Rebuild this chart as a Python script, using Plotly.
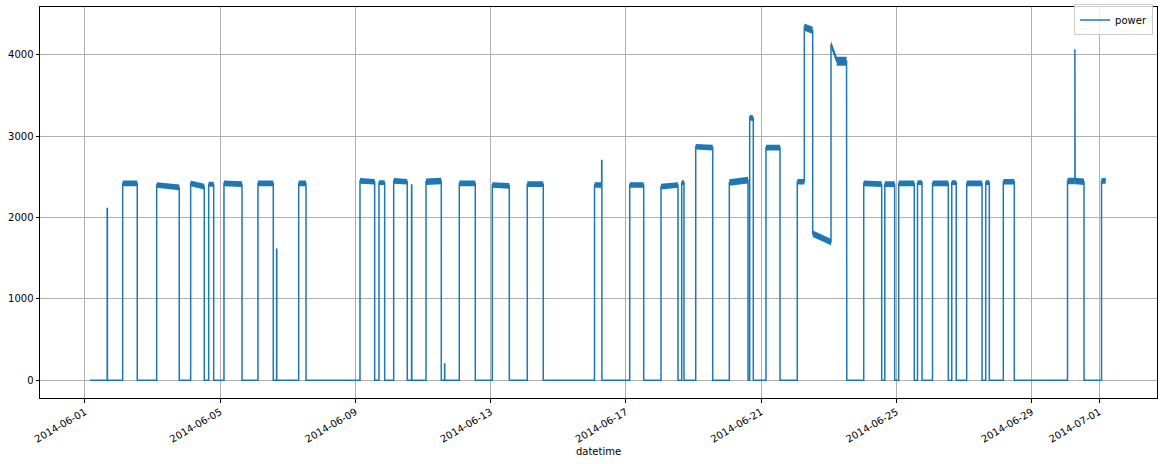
import plotly.graph_objects as go

# ---- data ----
data_start = "2014-06-01 03:30"

run_start = [
    "2014-06-01 15:45", "2014-06-02 02:46", "2014-06-03 02:54", "2014-06-04 03:02",
    "2014-06-04 15:48", "2014-06-05 02:40", "2014-06-06 02:48", "2014-06-06 16:00",
    "2014-06-07 07:42", "2014-06-09 03:13", "2014-06-09 16:42", "2014-06-10 03:08",
    "2014-06-10 15:50", "2014-06-11 02:04", "2014-06-11 15:15", "2014-06-12 01:42",
    "2014-06-13 01:07", "2014-06-14 01:58", "2014-06-16 01:41", "2014-06-16 06:45",
    "2014-06-17 02:40", "2014-06-18 00:53", "2014-06-18 15:35", "2014-06-19 01:31",
    "2014-06-20 01:22", "2014-06-20 15:50", "2014-06-21 03:24", "2014-06-22 01:37",
    "2014-06-22 06:36", "2014-06-22 12:33", "2014-06-23 01:33", "2014-06-23 05:35",
    "2014-06-23 12:35", "2014-06-24 00:46", "2014-06-24 15:44", "2014-06-25 01:36",
    "2014-06-25 14:57", "2014-06-26 01:36", "2014-06-26 15:17", "2014-06-27 01:52",
    "2014-06-27 15:22", "2014-06-28 03:52", "2014-06-30 01:26", "2014-06-30 06:40",
    "2014-06-30 06:50", "2014-07-01 01:34",
]
run_end = [
    "2014-06-01 15:55", "2014-06-02 13:07", "2014-06-03 18:56", "2014-06-04 12:41",
    "2014-06-04 19:22", "2014-06-05 15:27", "2014-06-06 13:40", "2014-06-06 16:10",
    "2014-06-07 12:53", "2014-06-09 13:38", "2014-06-09 20:44", "2014-06-10 12:47",
    "2014-06-10 16:00", "2014-06-11 12:55", "2014-06-11 15:25", "2014-06-12 13:03",
    "2014-06-13 13:12", "2014-06-14 13:19", "2014-06-16 06:45", "2014-06-16 06:55",
    "2014-06-17 12:36", "2014-06-18 12:56", "2014-06-18 17:12", "2014-06-19 13:35",
    "2014-06-20 14:38", "2014-06-20 18:24", "2014-06-21 13:21", "2014-06-22 06:36",
    "2014-06-22 12:33", "2014-06-23 01:33", "2014-06-23 05:35", "2014-06-23 12:35",
    "2014-06-23 12:45", "2014-06-24 13:32", "2014-06-24 22:45", "2014-06-25 12:40",
    "2014-06-25 18:09", "2014-06-26 12:49", "2014-06-26 18:26", "2014-06-27 12:45",
    "2014-06-27 17:56", "2014-06-28 11:40", "2014-06-30 06:40", "2014-06-30 06:50",
    "2014-06-30 13:08", "2014-07-01 04:32",
]
level_start = [
    2110, 2420, 2400, 2420, 2410, 2420, 2420, 1610,
    2420, 2450, 2430, 2450, 2400, 2440, 200, 2420,
    2400, 2410, 2400, 2700, 2400, 2380, 2430, 2870,
    2430, 3230, 2860, 2440, 4340, 1800, 4130, 3920,
    2420, 2420, 2410, 2420, 2430, 2420, 2430, 2420,
    2430, 2440, 2450, 4070, 2450, 2450,
]
level_end = [
    2110, 2420, 2370, 2380, 2410, 2410, 2420, 1610,
    2420, 2440, 2430, 2440, 2400, 2450, 200, 2420,
    2390, 2410, 2400, 2700, 2400, 2400, 2430, 2860,
    2460, 3220, 2860, 2440, 4300, 1700, 3940, 3920,
    2420, 2410, 2410, 2420, 2430, 2420, 2430, 2420,
    2430, 2440, 2450, 4070, 2440, 2450,
]
noise = [
    0, 35, 35, 35, 30, 35, 35, 0,
    35, 35, 30, 35, 0, 40, 0, 35,
    35, 35, 35, 0, 35, 35, 30, 35,
    40, 35, 35, 35, 45, 40, 40, 55,
    0, 35, 35, 35, 30, 35, 30, 35,
    30, 35, 40, 0, 40, 35,
]

tick_vals = ["2014-06-01", "2014-06-05", "2014-06-09", "2014-06-13", "2014-06-17",
             "2014-06-21", "2014-06-25", "2014-06-29", "2014-07-01"]
y_ticks = [0, 1000, 2000, 3000, 4000]

# ---- build step line ----
xs, ys = [data_start], [0]
n = len(run_start)
for i in range(n):
    contiguous_prev = i > 0 and run_start[i] == run_end[i - 1]
    if not contiguous_prev:
        xs.append(run_start[i]); ys.append(0)
    xs.append(run_start[i]); ys.append(level_start[i])
    xs.append(run_end[i]); ys.append(level_end[i])
    contiguous_next = i < n - 1 and run_start[i + 1] == run_end[i]
    if not contiguous_next and i < n - 1:
        xs.append(run_end[i]); ys.append(0)

# ---- noise bands ----
bx, by = [], []
for i in range(n):
    if noise[i] <= 0:
        continue
    bx += [run_start[i], run_end[i], run_end[i], run_start[i], run_start[i], None]
    by += [level_start[i] - noise[i], level_end[i] - noise[i],
           level_end[i] + noise[i], level_start[i] + noise[i],
           level_start[i] - noise[i], None]

color = "#1f77b4"
fig = go.Figure()
fig.add_trace(go.Scatter(x=bx, y=by, mode="lines", fill="toself", fillcolor=color,
                         line=dict(color=color, width=0), showlegend=False,
                         hoverinfo="skip"))
fig.add_trace(go.Scatter(x=xs, y=ys, mode="lines", name="power",
                         line=dict(color=color, width=1.5)))

axis_common = dict(showline=True, linecolor="black", linewidth=1, mirror=True,
                   showgrid=True, gridcolor="#b0b0b0", gridwidth=0.8,
                   ticks="outside", ticklen=3.5, tickcolor="black",
                   zeroline=False, automargin=False,
                   tickfont=dict(size=10, color="black"))

fig.update_layout(
    width=1162, height=464,
    margin=dict(l=40, r=5, t=6, b=66),
    paper_bgcolor="white", plot_bgcolor="white",
    font=dict(family="DejaVu Sans", size=10, color="black"),
    xaxis=dict(range=["2014-05-30 16:05", "2014-07-02 16:57"],
               tickvals=tick_vals, ticktext=tick_vals, tickangle=-30,
               title=dict(text="datetime", font=dict(size=10), standoff=4),
               **axis_common),
    yaxis=dict(range=[-218, 4588], tickvals=y_ticks,
               ticktext=[str(v) for v in y_ticks], **axis_common),
    legend=dict(x=0.9965, y=1.004, xanchor="right", yanchor="top",
                bgcolor="rgba(255,255,255,0.8)", bordercolor="#cccccc",
                borderwidth=1, font=dict(size=10)),
    showlegend=True,
)

fig.write_html(
    "out.html",
    config={"displayModeBar": False},
    post_script="document.body.style.margin='0';document.body.style.overflow='hidden';",
)
